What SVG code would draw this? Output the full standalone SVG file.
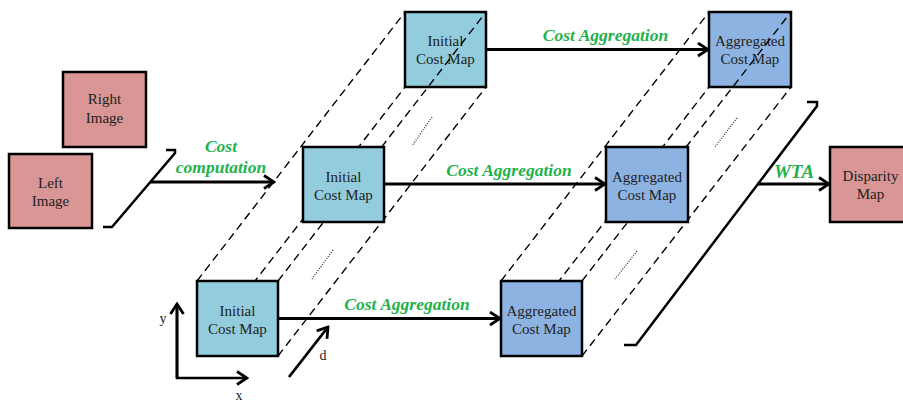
<svg xmlns="http://www.w3.org/2000/svg" width="903" height="403" viewBox="0 0 903 403">
<defs>
<style>
.box{stroke:#000;stroke-width:2.5}
.ini{fill:#93CDDD}
.agg{fill:#8DB3E2}
.img{fill:#D99694}
.t{font-family:"Liberation Serif","Times New Roman",serif;font-size:15px;fill:#222;text-anchor:middle}
.g{font-family:"Liberation Serif","Times New Roman",serif;font-size:17.5px;font-weight:bold;font-style:italic;fill:#22B14C;text-anchor:middle}
.ax{font-family:"Liberation Serif","Times New Roman",serif;font-size:14px;fill:#222;text-anchor:middle}
.dash{stroke:#000;stroke-width:1.4;stroke-dasharray:8 5;fill:none}
.dot{stroke:#333;stroke-width:1.3;stroke-dasharray:1 1.5;fill:none}
.arr{stroke:#000;stroke-width:2.8;fill:none;marker-end:url(#ah)}
.br{stroke:#000;stroke-width:2.5;fill:none}
</style>
<marker id="ah" viewBox="0 0 14 16" markerWidth="14" markerHeight="16" refX="12" refY="8" orient="auto" markerUnits="userSpaceOnUse">
<path d="M2,1.5 L12,8 L2,14.5" fill="none" stroke="#000" stroke-width="2.8"/>
</marker>
</defs>

<g id="right-image">
<rect class="box img" x="63" y="72" width="83" height="75"/>
<text class="t" x="104.5" y="104">Right</text>
<text class="t" x="104.5" y="123">Image</text>
</g>
<g id="left-image">
<rect class="box img" x="9" y="154" width="83" height="74"/>
<text class="t" x="50.5" y="188">Left</text>
<text class="t" x="50.5" y="206">Image</text>
</g>

<g id="initial-top">
<rect class="box ini" x="405" y="12" width="81" height="75"/>
<text class="t" x="445.5" y="46">Initial</text>
<text class="t" x="445.5" y="64">Cost Map</text>
</g>
<g id="aggregated-top">
<rect class="box agg" x="709" y="12" width="82" height="75"/>
<text class="t" x="750" y="46">Aggregated</text>
<text class="t" x="750" y="64">Cost Map</text>
</g>

<g id="connectors">
<line class="dash" x1="197" y1="281" x2="405" y2="12"/>
<line class="dash" x1="278" y1="281" x2="486" y2="12"/>
<line class="dash" x1="278" y1="356" x2="486" y2="87"/>
<line class="dash" x1="197" y1="356" x2="405" y2="87"/>
<line class="dot" x1="432" y1="117" x2="412" y2="146"/>
<line class="dot" x1="333" y1="250" x2="312" y2="279"/>
<line class="dash" x1="501" y1="281" x2="709" y2="12"/>
<line class="dash" x1="582" y1="281" x2="791" y2="12"/>
<line class="dash" x1="582" y1="356" x2="791" y2="87"/>
<line class="dash" x1="501" y1="356" x2="709" y2="87"/>
<line class="dot" x1="737" y1="118" x2="715" y2="147"/>
<line class="dot" x1="637" y1="251" x2="615" y2="279"/>
<polyline class="br" points="166,150 175,150 175,153 112,227 103,227"/>
<polyline class="br" points="807,102 817,102 817,106 636,345 624,345"/>
<line class="arr" x1="150" y1="182" x2="274" y2="182"/>
<line class="arr" x1="486" y1="49.5" x2="708" y2="49.5"/>
<line class="arr" x1="384" y1="184" x2="605" y2="184"/>
<line class="arr" x1="278" y1="318.5" x2="500" y2="318.5"/>
<line class="arr" x1="757" y1="184" x2="829" y2="184"/>
<polyline class="br" points="177,306 177,378 247,378" style="marker-end:url(#ah)"/>
<line class="arr" x1="177" y1="378" x2="177" y2="304"/>
<line class="arr" x1="289" y1="377" x2="328" y2="327"/>
</g>

<g id="initial-middle">
<rect class="box ini" x="303" y="147" width="81" height="75"/>
<text class="t" x="343.5" y="181.5">Initial</text>
<text class="t" x="343.5" y="199.5">Cost Map</text>
</g>
<g id="initial-bottom">
<rect class="box ini" x="197" y="281" width="81" height="75"/>
<text class="t" x="237.5" y="315.5">Initial</text>
<text class="t" x="237.5" y="333.5">Cost Map</text>
</g>
<g id="aggregated-middle">
<rect class="box agg" x="606" y="147" width="82" height="75"/>
<text class="t" x="647" y="181.5">Aggregated</text>
<text class="t" x="647" y="199.5">Cost Map</text>
</g>
<g id="aggregated-bottom">
<rect class="box agg" x="501" y="281" width="81" height="75"/>
<text class="t" x="541.5" y="315.5">Aggregated</text>
<text class="t" x="541.5" y="333.5">Cost Map</text>
</g>
<g id="disparity-map">
<rect class="box img" x="830" y="147" width="81" height="75"/>
<text class="t" x="870.5" y="181">Disparity</text>
<text class="t" x="870.5" y="199">Map</text>
</g>

<g id="labels">
<text class="g" x="221" y="152">Cost</text>
<text class="g" x="221" y="173">computation</text>
<text class="g" x="605.5" y="41">Cost Aggregation</text>
<text class="g" x="509" y="176">Cost Aggregation</text>
<text class="g" x="407" y="310">Cost Aggregation</text>
<text class="g" x="794" y="178" style="font-size:19px">WTA</text>
<text class="ax" x="163" y="323">y</text>
<text class="ax" x="239" y="400">x</text>
<text class="ax" x="323" y="360">d</text>
</g>
</svg>
